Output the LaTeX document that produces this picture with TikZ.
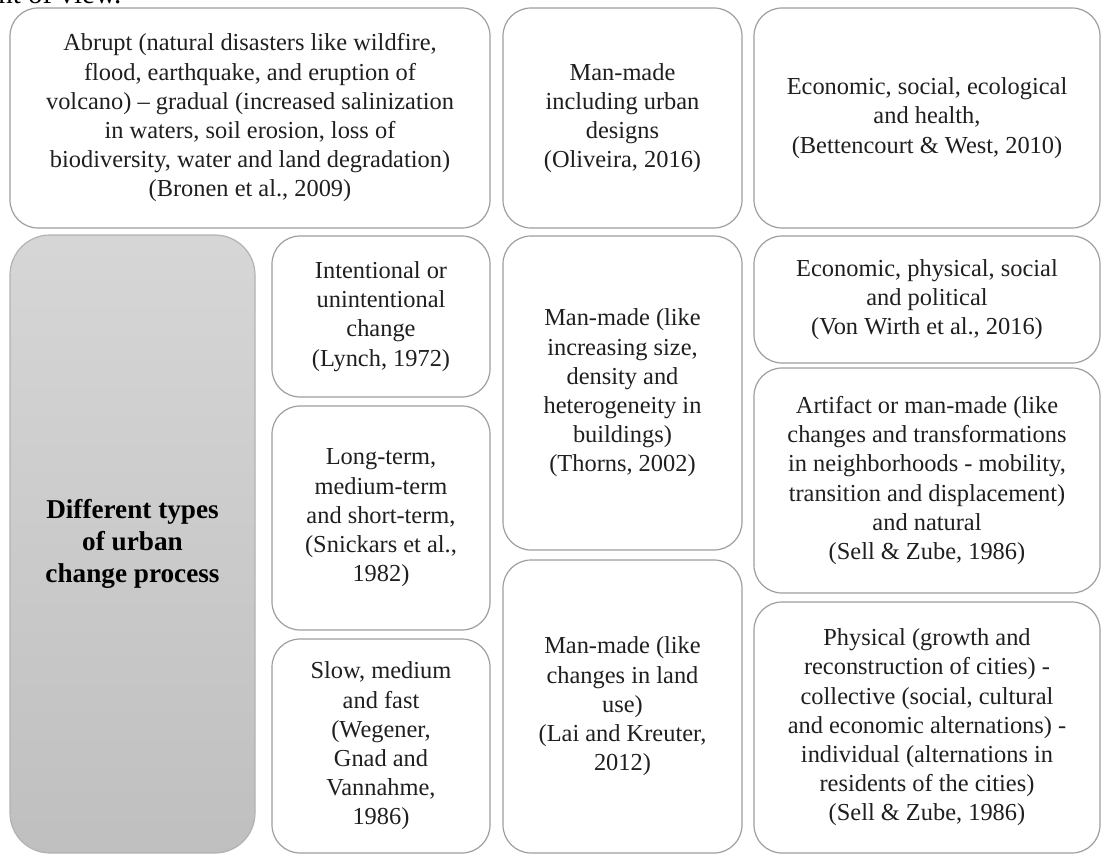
\documentclass[tikz,border=0pt]{standalone}
\usepackage{fontspec}
\setmainfont{Liberation Serif}
\usetikzlibrary{positioning}

\begin{document}
\begin{tikzpicture}[
  x=0.5pt,y=-0.5pt,
  font=\fontsize{12.2}{14.6}\selectfont,
  cell/.style    ={draw=black!38,line width=0.6pt,fill=white,text=black!88,
                   rounded corners=14pt,align=center,inner sep=2pt},
  headcell/.style={draw=black!30,line width=0.6pt,top color=black!16,
                   bottom color=black!25,text=black,rounded corners=20pt,
                   align=center,inner sep=2pt,
                   font=\fontsize{13.6}{16.2}\selectfont\bfseries},
]
\useasboundingbox (0,0) rectangle (1104,856);

% leftover line of the page text above the figure
\begin{scope}
  \clip (0,0) rectangle (1104,856);
  \node[anchor=base west,inner sep=0pt,text=black,
        font=\fontsize{14.5}{17}\selectfont] (pov) at (-2,4) {nt of view.};
\end{scope}

% ===================== top row ===========================================
\node[cell,minimum width=240pt,minimum height=110pt] (abrupt) at (250,118)
  {Abrupt (natural disasters like wildfire,\\
   flood, earthquake, and eruption of\\
   volcano) -- gradual (increased salinization\\
   in waters, soil erosion, loss of\\
   biodiversity, water and land degradation)\\
   (Bronen et al., 2009)};

\node[cell,minimum width=119.5pt,minimum height=110pt] (urban) at (622.5,118)
  {Man-made\\including urban\\designs\\(Oliveira, 2016)};

\node[cell,minimum width=173pt,minimum height=110pt] (health) at (927,118)
  {Economic, social, ecological\\and health,\\(Bettencourt \& West, 2010)};

% ===================== heading cell ======================================
\node[headcell,minimum width=122.5pt,minimum height=309pt] (types) at (132.5,544)
  {Different types\\of urban\\change process};

% ===================== column 2 ==========================================
\node[cell,minimum width=109pt,minimum height=80.5pt] (lynch) at (381,316.5)
  {Intentional or\\unintentional\\change\\(Lynch, 1972)};
\node[cell,minimum width=109pt,minimum height=112pt] (snick) at (381,518)
  {Long-term,\\medium-term\\and short-term,\\(Snickars et al.,\\1982)};
\node[cell,minimum width=109pt,minimum height=107pt] (wegen) at (381,746)
  {Slow, medium\\and fast\\(Wegener,\\Gnad and\\Vannahme,\\1986)};

% ===================== column 3 ==========================================
\node[cell,minimum width=119.5pt,minimum height=157pt] (thorns) at (622.5,393)
  {Man-made (like\\increasing size,\\density and\\heterogeneity in\\buildings)\\(Thorns, 2002)};
\node[cell,minimum width=119.5pt,minimum height=146.5pt] (lai) at (622.5,706.5)
  {Man-made (like\\changes in land\\use)\\(Lai and Kreuter,\\2012)};

% ===================== column 4 ==========================================
\node[cell,minimum width=173pt,minimum height=63.5pt] (wirth) at (927,299.5)
  {Economic, physical, social\\and political\\(Von Wirth et al., 2016)};
\node[cell,minimum width=173pt,minimum height=112.5pt] (artif) at (927,480.5)
  {Artifact or man-made (like\\changes and transformations\\in neighborhoods - mobility,\\
   transition and displacement)\\and natural\\(Sell \& Zube, 1986)};
\node[cell,minimum width=173pt,minimum height=125.5pt] (phys) at (927,727.5)
  {Physical (growth and\\reconstruction of cities) -\\collective (social, cultural\\
   and economic alternations) -\\individual (alternations in\\residents of the cities)\\
   (Sell \& Zube, 1986)};

\end{tikzpicture}
\end{document}
